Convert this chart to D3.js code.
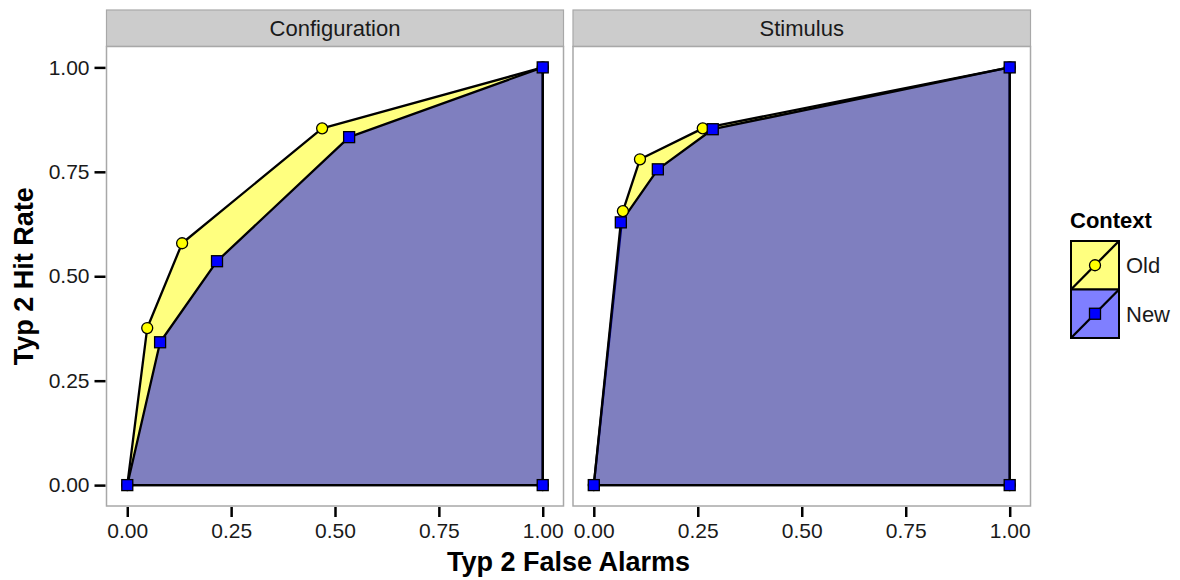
<!DOCTYPE html>
<html><head><meta charset="utf-8">
<script src="https://cdn.jsdelivr.net/npm/d3@7/dist/d3.min.js"></script>
<style>body{margin:0;background:#fff;font-family:"Liberation Sans",Arial,sans-serif;}</style>
</head><body><svg id="c" width="1180" height="580"></svg>
<script>
const panels = ["Configuration", "Stimulus"];
const contexts = ["Old", "New"];
// Configuration panel
const confOldFA  = [0, 0.048, 0.132, 0.469, 1, 1];
const confOldHit = [0, 0.376, 0.579, 0.854, 1, 0];
const confNewFA  = [0, 0.079, 0.216, 0.534, 1, 1];
const confNewHit = [0, 0.342, 0.536, 0.833, 1, 0];
// Stimulus panel
const stimOldFA  = [0, 0.070, 0.111, 0.262, 1, 1];
const stimOldHit = [0, 0.656, 0.780, 0.854, 1, 0];
const stimNewFA  = [0, 0.065, 0.154, 0.286, 1, 1];
const stimNewHit = [0, 0.629, 0.756, 0.852, 1, 0];
const xTicks = [0, 0.25, 0.5, 0.75, 1];
const yTicks = [0, 0.25, 0.5, 0.75, 1];

const data = {
  Configuration: {Old: confOldFA.map((f,i)=>[f, confOldHit[i]]), New: confNewFA.map((f,i)=>[f, confNewHit[i]])},
  Stimulus: {Old: stimOldFA.map((f,i)=>[f, stimOldHit[i]]), New: stimNewFA.map((f,i)=>[f, stimNewHit[i]])}
};

const svg = d3.select("#c");
const panelX = [[106.5, 563.5], [573, 1030.5]];
const pTop = 46.5, pBottom = 506, stripTop = 10;
const fills = {Old: "rgba(255,255,0,0.5)", New: "rgba(0,0,255,0.5)"};
const ptFill = {Old: "#ffff00", New: "#0000ff"};
const FONT = "Liberation Sans, Arial, sans-serif";

const y = d3.scaleLinear().domain([-0.05, 1.05]).range([pBottom, pTop]);

panels.forEach((p, pi) => {
  const [x0, x1] = panelX[pi];
  const x = d3.scaleLinear().domain([-0.05, 1.05]).range([x0, x1]);
  const g = svg.append("g");
  g.append("rect").attr("x", x0).attr("y", stripTop).attr("width", x1 - x0).attr("height", pTop - stripTop)
    .attr("fill", "#cccccc").attr("stroke", "#a8a8a8").attr("stroke-width", 1.2);
  g.append("text").attr("x", (x0 + x1) / 2).attr("y", 36)
    .attr("text-anchor", "middle").attr("font-size", 22).attr("fill", "#1a1a1a").text(p);
  g.append("rect").attr("x", x0).attr("y", pTop).attr("width", x1 - x0).attr("height", pBottom - pTop)
    .attr("fill", "#fff").attr("stroke", "none");
  const line = d3.line().x(d => x(d[0])).y(d => y(d[1]));
  contexts.forEach(c => {
    g.append("path").attr("d", line(data[p][c]) + "Z").attr("fill", fills[c])
      .attr("stroke", "#000").attr("stroke-width", 2.3).attr("stroke-linejoin", "round");
  });
  contexts.forEach(c => {
    data[p][c].forEach(d => {
      if (c === "Old") {
        g.append("circle").attr("cx", x(d[0])).attr("cy", y(d[1])).attr("r", 5.5)
          .attr("fill", ptFill[c]).attr("stroke", "#000").attr("stroke-width", 1.3);
      } else {
        g.append("rect").attr("x", x(d[0]) - 5.5).attr("y", y(d[1]) - 5.5).attr("width", 11).attr("height", 11)
          .attr("fill", ptFill[c]).attr("stroke", "#000").attr("stroke-width", 1.3);
      }
    });
  });
  g.append("rect").attr("x", x0).attr("y", pTop).attr("width", x1 - x0).attr("height", pBottom - pTop)
    .attr("fill", "none").attr("stroke", "#a8a8a8").attr("stroke-width", 1.5);
  const xa = svg.append("g").attr("transform", `translate(0,${pBottom + 1})`)
    .call(d3.axisBottom(x).tickValues(xTicks).tickFormat(d3.format(".2f")).tickSize(10).tickPadding(6));
  xa.select(".domain").remove();
  xa.selectAll("line").attr("stroke", "#000").attr("stroke-width", 2.5);
  xa.selectAll("text").attr("font-size", 21).attr("fill", "#1a1a1a").attr("font-family", FONT);
});

const ya = svg.append("g").attr("transform", `translate(${panelX[0][0] - 1},0)`)
  .call(d3.axisLeft(y).tickValues(yTicks).tickFormat(d3.format(".2f")).tickSize(11).tickPadding(5));
ya.select(".domain").remove();
ya.selectAll("line").attr("stroke", "#000").attr("stroke-width", 2.5);
ya.selectAll("text").attr("font-size", 21).attr("fill", "#1a1a1a").attr("font-family", FONT);

svg.append("text").attr("x", (panelX[0][0] + panelX[1][1]) / 2).attr("y", 571).attr("text-anchor", "middle")
  .attr("font-size", 27).attr("font-weight", "bold").text("Typ 2 False Alarms");
svg.append("text").attr("transform", `translate(33,${(pTop + pBottom) / 2}) rotate(-90)`).attr("text-anchor", "middle")
  .attr("font-size", 27).attr("font-weight", "bold").text("Typ 2 Hit Rate");

const lg = svg.append("g").attr("transform", "translate(1070,0)");
lg.append("text").attr("x", 0).attr("y", 228).attr("font-size", 22).attr("font-weight", "bold").text("Context");
const keyW = 48, keyH = 48.5, keyTop = 241;
contexts.forEach((c, i) => {
  const ky = keyTop + i * keyH;
  lg.append("rect").attr("x", 1).attr("y", ky).attr("width", keyW).attr("height", keyH).attr("fill", "#fff");
  lg.append("rect").attr("x", 1).attr("y", ky).attr("width", keyW).attr("height", keyH)
    .attr("fill", fills[c]).attr("stroke", "#000").attr("stroke-width", 2);
  lg.append("line").attr("x1", 1).attr("y1", ky + keyH).attr("x2", 1 + keyW).attr("y2", ky)
    .attr("stroke", "#000").attr("stroke-width", 2.3);
  if (c === "Old") {
    lg.append("circle").attr("cx", 1 + keyW / 2).attr("cy", ky + keyH / 2).attr("r", 5.5)
      .attr("fill", ptFill[c]).attr("stroke", "#000").attr("stroke-width", 1.3);
  } else {
    lg.append("rect").attr("x", 1 + keyW / 2 - 5.5).attr("y", ky + keyH / 2 - 5.5).attr("width", 11).attr("height", 11)
      .attr("fill", ptFill[c]).attr("stroke", "#000").attr("stroke-width", 1.3);
  }
  lg.append("text").attr("x", 56).attr("y", ky + keyH / 2 + 8).attr("font-size", 22).attr("fill", "#1a1a1a").text(c);
});
</script></body></html>
